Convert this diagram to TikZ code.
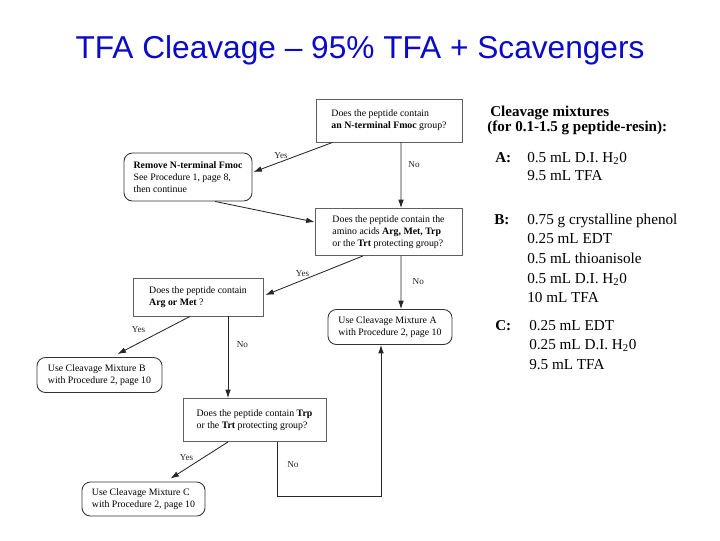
\documentclass[tikz,border=0pt]{standalone}
\usepackage{fontspec}
\setmainfont{Liberation Serif}
\newfontfamily\titlefont{Liberation Sans}
\usepackage{tikz}
\usetikzlibrary{arrows.meta, calc}
\definecolor{titleblue}{RGB}{10, 10, 200}
\definecolor{boxgray}{RGB}{95, 95, 95}

\begin{document}
\begin{tikzpicture}[
    x=0.025cm, y=-0.025cm,
    question/.style={rectangle, draw=boxgray, line width=0.6pt, fill=white,
                align=left, inner sep=2pt, font=\fontsize{7}{8.5}\selectfont},
    result/.style={rectangle, rounded corners=6pt, draw=black!80, line width=0.6pt,
                fill=white, align=left, inner sep=2pt, font=\fontsize{7}{8.5}\selectfont},
    flow/.style={-{Latex[length=6pt,width=4pt]}, line width=0.6pt, black!85},
    answer/.style={font=\fontsize{6.5}{7}\selectfont, inner sep=2pt},
    mixhead/.style={anchor=base west, inner sep=0pt, font=\fontsize{10.7}{12}\selectfont\bfseries},
    mixkey/.style={anchor=base west, inner sep=0pt, font=\fontsize{10.7}{12}\selectfont\bfseries},
    mixline/.style={anchor=base west, inner sep=0pt, font=\fontsize{10.8}{12}\selectfont}
]
\useasboundingbox[fill=white] (0,0) rectangle (720,540);

\node[font=\titlefont\fontsize{22.5}{26}\selectfont, text=titleblue] (TITLE) at (360,50)
    {TFA Cleavage \textendash\ 95\% TFA + Scavengers};

% flow chart
\node[question, minimum width=3.65cm, minimum height=1.075cm] (Q1) at (389,120.5)
    {Does the peptide contain\\\textbf{an N-terminal Fmoc} group?};
\node[result, minimum width=3.2cm, minimum height=1.2cm] (FMOC) at (188,177)
    {\textbf{Remove N-terminal Fmoc}\\See Procedure 1, page 8,\\then continue};
\node[question, minimum width=3.675cm, minimum height=1.175cm] (Q2) at (388.5,232)
    {Does the peptide contain the\\amino acids \textbf{Arg, Met, Trp}\\or the \textbf{Trt} protecting group?};
\node[question, minimum width=3.25cm, minimum height=0.95cm] (Q3) at (198,297)
    {Does the peptide contain\\\textbf{Arg or Met} ?};
\node[result, minimum width=3.1cm, minimum height=0.875cm] (MIXA) at (390,327)
    {Use Cleavage Mixture A\\with Procedure 2, page 10};
\node[result, minimum width=3.125cm, minimum height=0.875cm] (MIXB) at (99.5,375)
    {Use Cleavage Mixture B\\with Procedure 2, page 10};
\node[question, minimum width=3.575cm, minimum height=1.075cm] (Q4) at (254.5,420)
    {Does the peptide contain \textbf{Trp}\\or the \textbf{Trt} protecting group?};
\node[result, minimum width=3.075cm, minimum height=0.85cm] (MIXC) at (143.5,499)
    {Use Cleavage Mixture C\\with Procedure 2, page 10};

\draw[flow] ($(Q1.south west)+(17,0)$) -- node[answer, above, pos=0.65]{Yes} ($(FMOC.east)+(1,-5)$);
\draw[flow] ($(Q1.south)+(12,0)$) -- node[answer, right=3pt, pos=0.34]{No} ($(Q2.north)+(12.5,0)$);
\draw[flow] ($(FMOC.south)+(27,0)$) -- ($(Q2.west)+(0,-10)$);
\draw[flow] ($(Q2.south)+(-25.5,0)$) -- node[answer, above, pos=0.62]{Yes} ($(Q3.east)+(2,-2)$);
\draw[flow] ($(Q2.south)+(12.5,0)$) -- node[answer, right=6pt, pos=0.49]{No} ($(MIXA.north)+(11,0)$);
\draw[flow] ($(Q3.south)+(-8,0)$) -- node[answer, above=5pt, pos=0.71]{Yes} ($(MIXB.north)+(18,-3)$);
\draw[flow] ($(Q3.south)+(30,0)$) -- node[answer, right=4pt, pos=0.34]{No} ($(Q4.north)+(-26.5,0)$);
\draw[flow] ($(Q4.south)+(-26.5,0)$) -- node[answer, above=3pt, pos=0.72]{Yes} ($(MIXC.north)+(27,-3)$);
\draw[flow] ($(Q4.south)+(22.5,0)$) -- node[answer, right=5pt, pos=0.41]{No} ++(0,54)
    -| ($(MIXA.south)+(-9,0)$);

% cleavage mixtures
\node[mixhead] (HEAD1) at (490,116) {Cleavage mixtures};
\node[mixhead] (HEAD2) at (487,131) {(for 0.1-1.5 g peptide-resin):};

\node[mixkey]  (KEYA) at (495,162) {A:};
\node[mixline] (A1)   at (527,162) {0.5 mL D.I. H\textsubscript{2}0};
\node[mixline] (A2)   at (527,180) {9.5 mL TFA};

\node[mixkey]  (KEYB) at (494,224) {B:};
\node[mixline] (B1)   at (527,224) {0.75 g crystalline phenol};
\node[mixline] (B2)   at (527,243) {0.25 mL EDT};
\node[mixline] (B3)   at (527,263) {0.5 mL thioanisole};
\node[mixline] (B4)   at (527,283) {0.5 mL D.I. H\textsubscript{2}0};
\node[mixline] (B5)   at (527,302) {10 mL TFA};

\node[mixkey]  (KEYC) at (495,330) {C:};
\node[mixline] (C1)   at (529,330) {0.25 mL EDT};
\node[mixline] (C2)   at (529,349) {0.25 mL D.I. H\textsubscript{2}0};
\node[mixline] (C3)   at (529,369) {9.5 mL TFA};

\end{tikzpicture}
\end{document}
